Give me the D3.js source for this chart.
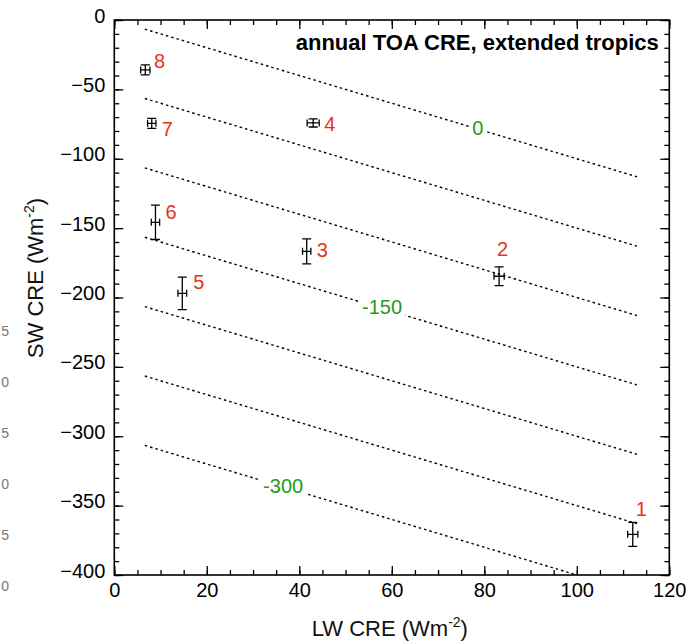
<!DOCTYPE html>
<html>
<head>
<meta charset="utf-8">
<script src="https://cdn.jsdelivr.net/npm/d3@7"></script>
<style>
  body { margin: 0; background: #fff; }
  text { font-family: "Liberation Sans", Arial, Helvetica, sans-serif; }
</style>
</head>
<body>
<div id="chart"></div>
<script>
// ---- data ----
var pointNames = ["1", "2", "3", "4", "5", "6", "7", "8"];
var lwCRE = [112.1, 83.2, 41.6, 43.0, 14.7, 8.9, 8.1, 6.7];
var swCRE = [-370.7, -184.7, -166.7, -74.2, -197.0, -145.8, -74.5, -36.0];
var lwErr = [1.1, 1.1, 0.9, 1.3, 0.95, 0.9, 0.9, 1.0];
var swErr = [8.6, 6.8, 9.0, 2.9, 11.7, 12.4, 3.6, 3.6];

// net CRE contours (LW + SW = level)
var netLevels = [0, -50, -100, -150, -200, -250, -300];
var contourLW = [6.6, 113];
var labelledLevels = [0, -150, -300];
var labelledLW = [78.6, 57.9, 36.5];

var xTicks = [0, 20, 40, 60, 80, 100, 120];
var yTicks = [0, -50, -100, -150, -200, -250, -300, -350, -400];

// stray tick digits from the neighbouring panel
var strayDigits = ["5", "0", "5", "0", "5", "0"];

var margin = {
    top: 20,
    right: 17.7,
    bottom: 66,
    left: 114.3
  },
  width = 687 - margin.left - margin.right,
  height = 641 - margin.top - margin.bottom;

var red = "#e8301c",
  green = "#1f9a23";

var svg = d3.select("#chart").append("svg")
  .attr("width", 687)
  .attr("height", 641);

svg.append("rect").attr("width", 687).attr("height", 641).attr("fill", "#fff");

var g = svg.append("g")
  .attr("transform", "translate(" + margin.left + "," + margin.top + ")");

var x = d3.scaleLinear().domain([0, 120]).range([0, width]);
var y = d3.scaleLinear().domain([0, -400]).range([0, height]);

// contour lines
var line = d3.line()
  .x(function(d) { return x(d[0]); })
  .y(function(d) { return y(d[1]); });

netLevels.forEach(function(level) {
  var lwEnd = Math.min(contourLW[1], level + 400);
  g.append("path")
    .datum([[contourLW[0], level - contourLW[0]], [lwEnd, level - lwEnd]])
    .attr("d", line)
    .attr("fill", "none")
    .attr("stroke", "#000")
    .attr("stroke-width", 1.4)
    .attr("stroke-dasharray", "2.5,3");
});

// contour labels with white background
labelledLevels.forEach(function(level, i) {
  var lw = labelledLW[i];
  var t = g.append("text")
    .attr("x", x(lw))
    .attr("y", y(level - lw))
    .attr("dy", "0.3em")
    .attr("text-anchor", "middle")
    .attr("font-size", "20px")
    .attr("fill", green)
    .text(d3.format("d")(level).replace("\u2212", "-"));
  var bb = t.node().getBBox();
  g.insert("rect", "text")
    .attr("x", bb.x - 3)
    .attr("y", bb.y)
    .attr("width", bb.width + 6)
    .attr("height", bb.height)
    .attr("fill", "#fff");
});

// axes: ticks point inward on all four sides
function minor(step, lo, hi) {
  return d3.range(lo, hi + 0.001, step);
}

g.append("g")
  .attr("class", "axis axis--x")
  .attr("transform", "translate(0," + height + ")")
  .call(d3.axisBottom(x).tickValues(xTicks).tickSize(-9).tickSizeOuter(0).tickPadding(8).tickFormat(d3.format("d")));
g.append("g")
  .attr("transform", "translate(0," + height + ")")
  .call(d3.axisBottom(x).tickValues(minor(5, 0, 120)).tickSize(-5).tickSizeOuter(0).tickFormat(""));
g.append("g")
  .call(d3.axisTop(x).tickValues(xTicks).tickSize(-9).tickSizeOuter(0).tickFormat(""));
g.append("g")
  .call(d3.axisTop(x).tickValues(minor(5, 0, 120)).tickSize(-5).tickSizeOuter(0).tickFormat(""));

g.append("g")
  .attr("class", "axis axis--y")
  .call(d3.axisLeft(y).tickValues(yTicks).tickSize(-9).tickSizeOuter(0).tickPadding(9).tickFormat(d3.format("d")));
g.append("g")
  .call(d3.axisLeft(y).tickValues(minor(10, -400, 0)).tickSize(-5).tickSizeOuter(0).tickFormat(""));
g.append("g")
  .attr("transform", "translate(" + width + ",0)")
  .call(d3.axisRight(y).tickValues(yTicks).tickSize(-9).tickSizeOuter(0).tickFormat(""));
g.append("g")
  .attr("transform", "translate(" + width + ",0)")
  .call(d3.axisRight(y).tickValues(minor(10, -400, 0)).tickSize(-5).tickSizeOuter(0).tickFormat(""));

g.selectAll(".domain").remove();
g.selectAll(".tick line").attr("stroke", "#000").attr("stroke-width", 1.3);
g.selectAll(".axis text")
  .attr("font-size", "20px")
  .attr("fill", "#000")
  .style("font-family", "'Liberation Sans', Arial, sans-serif");
g.selectAll(".axis--y text").attr("dy", "0.1em");

g.append("rect")
  .attr("width", width)
  .attr("height", height)
  .attr("fill", "none")
  .attr("stroke", "#000")
  .attr("stroke-width", 1.6);

// error bars
var pts = pointNames.map(function(n, i) {
  return { name: n, lw: lwCRE[i], sw: swCRE[i], ex: lwErr[i], ey: swErr[i] };
});

var bars = g.selectAll(".pt")
  .data(pts)
  .enter().append("g")
  .attr("class", "pt")
  .attr("stroke", "#000")
  .attr("stroke-width", 1.3)
  .attr("fill", "none");

bars.append("path")
  .attr("d", function(d) {
    var cx = x(d.lw), cy = y(d.sw),
      y0 = y(d.sw + d.ey), y1 = y(d.sw - d.ey),
      x0 = x(d.lw - d.ex), x1 = x(d.lw + d.ex);
    return "M" + cx + "," + y0 + "V" + y1 +
      "M" + (cx - 4.5) + "," + y0 + "H" + (cx + 4.5) +
      "M" + (cx - 4.5) + "," + y1 + "H" + (cx + 4.5) +
      "M" + x0 + "," + cy + "H" + x1 +
      "M" + x0 + "," + (cy - 3.5) + "V" + (cy + 3.5) +
      "M" + x1 + "," + (cy - 3.5) + "V" + (cy + 3.5);
  });

// label placement next to each point (pixels)
var labelDx = [3, -2, 10, 11, 11, 10, 10, 8.7],
  labelDy = [-18, -20, 6, 8.5, -4, -3, 13, -2];

g.selectAll(".ptlabel")
  .data(pts)
  .enter().append("text")
  .attr("class", "ptlabel")
  .attr("x", function(d, i) { return x(d.lw) + labelDx[i]; })
  .attr("y", function(d, i) { return y(d.sw) + labelDy[i]; })
  .attr("font-size", "20px")
  .attr("fill", red)
  .text(function(d) { return d.name; });

// title
g.append("text")
  .attr("x", width - 10.5)
  .attr("y", 30)
  .attr("text-anchor", "end")
  .attr("font-size", "22px")
  .attr("font-weight", "bold")
  .attr("fill", "#000")
  .text("annual TOA CRE, extended tropics");

// axis titles
var xt = svg.append("text")
  .attr("x", margin.left + width / 2 - 2)
  .attr("y", 636)
  .attr("text-anchor", "middle")
  .attr("font-size", "22px")
  .attr("fill", "#111");
xt.append("tspan").text("LW CRE (Wm");
xt.append("tspan").attr("font-size", "14px").attr("dy", "-9").text("-2");
xt.append("tspan").attr("dy", "9").text(")");

var yt = svg.append("text")
  .attr("transform", "translate(43,278) rotate(-90)")
  .attr("text-anchor", "middle")
  .attr("font-size", "22px")
  .attr("fill", "#111");
yt.append("tspan").text("SW CRE (Wm");
yt.append("tspan").attr("font-size", "14px").attr("dy", "-9").text("-2");
yt.append("tspan").attr("dy", "9").text(")");

// neighbouring panel remnants
svg.selectAll(".stray")
  .data(strayDigits)
  .enter().append("text")
  .attr("class", "stray")
  .attr("x", 9)
  .attr("y", function(d, i) { return 336 + i * 51; })
  .attr("text-anchor", "end")
  .attr("font-size", "14px")
  .attr("fill", "#777")
  .text(function(d) { return d; });
</script>
</body>
</html>
